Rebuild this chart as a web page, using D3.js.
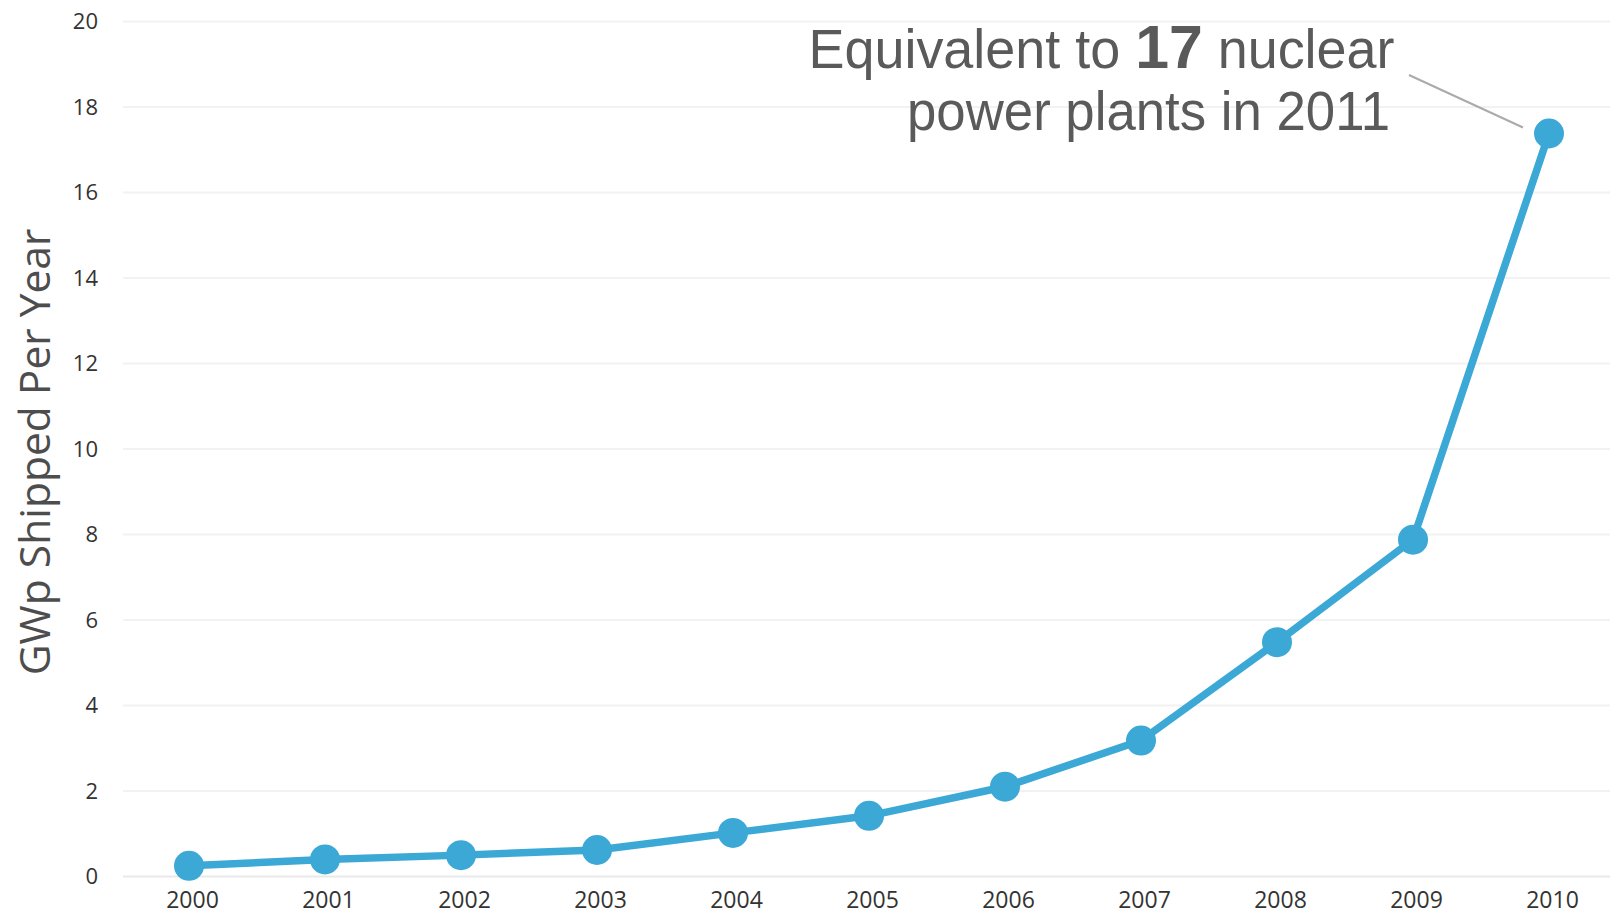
<!DOCTYPE html>
<html><head><meta charset="utf-8">
<script src="https://cdn.jsdelivr.net/npm/d3@7"></script>
<style>html,body{margin:0;padding:0;background:#fff;}svg{display:block;}</style>
</head><body>
<svg id="chart" width="1610" height="915"></svg>
<script>
const years = ["2000","2001","2002","2003","2004","2005","2006","2007","2008","2009","2010"];
const shipped = [0.25,0.4,0.5,0.62,1.02,1.42,2.1,3.18,5.48,7.88,17.38];
const yTicks = [0,2,4,6,8,10,12,14,16,18,20];
const yTitle = "GWp Shipped Per Year";

const svg = d3.select("#chart");
const x = d3.scalePoint().domain(years).range([189,1549]);
const y = d3.scaleLinear().domain([0,20]).range([876.5,21.5]);

// grid
svg.append("g").selectAll("line").data(yTicks).join("line")
  .attr("x1",123).attr("x2",1610)
  .attr("y1",d=>y(d)).attr("y2",d=>y(d))
  .attr("stroke",d=>d===0?"#e9e9e9":"#f2f2f2").attr("stroke-width",2);

// y axis
const yAxis = svg.append("g").attr("transform","translate(98,0)")
  .call(d3.axisLeft(y).tickValues(yTicks).tickSize(0).tickPadding(0));
yAxis.select(".domain").remove();
yAxis.selectAll("text").attr("font-family","'Open Sans'").attr("font-size",22).attr("fill","#333");

// x axis
const xAxis = svg.append("g").attr("transform","translate(3,892)")
  .call(d3.axisBottom(x).tickSize(0).tickPadding(0));
xAxis.select(".domain").remove();
xAxis.selectAll("text").attr("font-family","'Open Sans'").attr("font-size",23).attr("fill","#333");

// y title
svg.append("text").attr("transform","translate(50,452) rotate(-90)")
  .attr("text-anchor","middle").attr("font-family","'Open Sans'").attr("font-size",42.5)
  .attr("fill","#4d4d4d").text(yTitle);

// line
const line = d3.line().x((d,i)=>x(years[i])).y(d=>y(d));
svg.append("path").datum(shipped).attr("d",line).attr("fill","none")
  .attr("stroke","#3ba8d6").attr("stroke-width",7.5).attr("stroke-linejoin","round");
svg.append("g").selectAll("circle").data(shipped).join("circle")
  .attr("cx",(d,i)=>x(years[i])).attr("cy",d=>y(d)).attr("r",15).attr("fill","#3ba8d6");

// annotation
const annFont = "'Liberation Sans', Arial, sans-serif";
const l1 = svg.append("text").attr("font-family",annFont).attr("font-size",55).attr("fill","#5a5a5a")
  .attr("x",1394.5-586).attr("y",68).attr("textLength",586).attr("lengthAdjust","spacingAndGlyphs");
l1.append("tspan").text("Equivalent to ");
l1.append("tspan").attr("font-weight","bold").attr("font-size",62).text("17");
l1.append("tspan").text(" nuclear");
svg.append("text").attr("font-family",annFont).attr("font-size",55).attr("fill","#5a5a5a")
  .attr("x",1390-483).attr("y",130).attr("textLength",483).attr("lengthAdjust","spacingAndGlyphs")
  .text("power plants in 2011");

const last = years.length-1;
svg.append("line").attr("x1",1409).attr("y1",75)
  .attr("x2",x(years[last])-26).attr("y2",y(shipped[last])-6)
  .attr("stroke","#aaaaaa").attr("stroke-width",2);
</script>
</body></html>
